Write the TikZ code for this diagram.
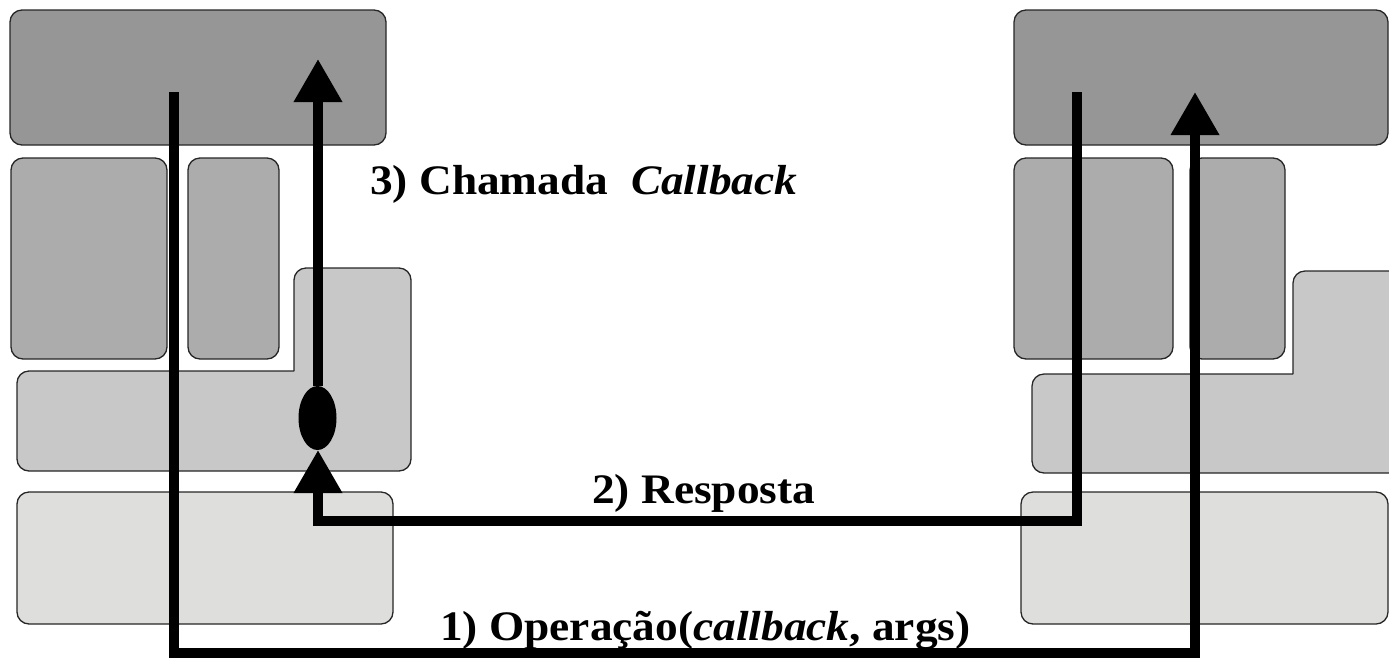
\documentclass[tikz,border=0pt]{standalone}
\usepackage{fontspec}
\setmainfont{Liberation Serif}
\newfontfamily\lblfont[FakeStretch=1.08]{Liberation Serif}
\usetikzlibrary{arrows.meta,shapes.geometric}

\definecolor{topgray}{RGB}{150,150,150}
\definecolor{midgray}{RGB}{172,172,172}
\definecolor{layergray}{RGB}{200,200,200}
\definecolor{basegray}{RGB}{222,223,221}

\tikzset{
  panel/.style={draw=black!85, line width=1.3pt, rounded corners=12pt},
  toppanel/.style={panel, fill=topgray},
  midpanel/.style={panel, fill=midgray},
  layerpanel/.style={panel, fill=layergray},
  basepanel/.style={panel, fill=basegray},
  wire/.style={line width=10pt, line join=miter, line cap=butt},
  bigtip/.style={-{Triangle[length=43pt,width=46pt]}},
  lbl/.style={font=\lblfont\bfseries\fontsize{42}{50}\selectfont, anchor=base west, inner sep=0pt}
}

\begin{document}
\begin{tikzpicture}[x=1pt,y=-1pt]
  \useasboundingbox (0,0) rectangle (1389,657);
  \clip (0,0) rectangle (1389,657);

  % left stack of components
  \draw[toppanel] (10,10) rectangle (386,145);
  \draw[midpanel] (11,158) rectangle (167,359);
  \draw[midpanel] (188,158) rectangle (279,359);
  \draw[layerpanel] (294,371) [rounded corners=12pt] -- (294,268) -- (411,268)
        -- (411,471) -- (17,471) -- (17,371) [sharp corners] -- (294,371);
  \draw[basepanel] (17,492) rectangle (393,624);

  % right stack of components
  \draw[toppanel] (1014,10) rectangle (1388,145);
  \draw[midpanel] (1014,158) rectangle (1173,359);
  \draw[midpanel] (1190,158) rectangle (1285,359);
  \draw[layerpanel] (1293,374) [rounded corners=12pt] -- (1293,271) -- (1420,271)
        -- (1420,473) -- (1032,473) -- (1032,374) [sharp corners] -- (1293,374);
  \draw[basepanel] (1021,492) rectangle (1388,624);

  % end points of the three calls
  \coordinate (clientOut) at (174,92);
  \coordinate (serverIn) at (1195,92);
  \coordinate (serverOut) at (1077,92);
  \coordinate (callbackIn) at (318,450);
  \coordinate (appIn) at (318,59);
  \coordinate (requestBus) at (0,653);
  \coordinate (replyBus) at (0,521);
  \node[ellipse, fill=black, minimum width=38pt, minimum height=64pt, inner sep=0pt]
        (cbobj) at (317.5,418) {};

  % 1) operation request
  \draw[wire, bigtip] (clientOut) |- (serverIn |- requestBus) -- (serverIn);
  % 2) reply
  \draw[wire, bigtip] (serverOut) |- (callbackIn |- replyBus) -- (callbackIn);
  % 3) callback invocation
  \draw[wire, bigtip] (cbobj.north -| appIn) -- (appIn);

  % labels
  \node[lbl] (l3) at (370,194) {3) Chamada\ \ \textit{Callback}};
  \node[lbl] (l2) at (592,503) {2) Resposta};
  \node[lbl] (l1) at (440,640) {1) Operação(\textit{callback}, args)};
\end{tikzpicture}
\end{document}
